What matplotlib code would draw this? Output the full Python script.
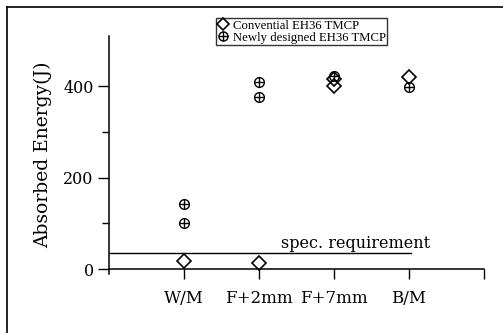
import matplotlib
matplotlib.use("Agg")
import matplotlib.pyplot as plt
from matplotlib.lines import Line2D
from matplotlib.legend_handler import HandlerTuple

# categories on the x axis
categories = ["W/M", "F+2mm", "F+7mm", "B/M"]

# Conventional EH36 TMCP (diamonds)
conv_cat = ["W/M", "F+2mm", "F+7mm", "F+7mm", "B/M"]
conv_vals = [18, 13, 415, 400, 420]

# Newly designed EH36 TMCP (circled plus)
new_cat = ["W/M", "W/M", "F+2mm", "F+2mm", "F+7mm", "B/M"]
new_vals = [142, 100, 409, 377, 422, 397]

spec_value = 35
yticks = [0, 200, 400]
yminor = [100, 300]

serif = "DejaVu Serif"

fig = plt.figure(figsize=(5.03, 3.33), dpi=100)
fig.patch.set_facecolor("white")
ax = fig.add_axes([109 / 503, 0.1784, 375 / 503, 0.7144])

xpos = {c: i + 1 for i, c in enumerate(categories)}
cx = [xpos[c] for c in conv_cat]
nx = [xpos[c] for c in new_cat]

ax.plot(nx, new_vals, ls="none", marker="o", ms=7, mfc="none",
        mec="black", mew=1.0, zorder=3)
ax.plot(nx, new_vals, ls="none", marker="+", ms=7, mec="black",
        mew=1.0, zorder=3)
ax.plot(cx, conv_vals, ls="none", marker="D", ms=7, mfc="none",
        mec="black", mew=1.2, zorder=4)

# spec requirement line
ax.plot([0, 4.03], [spec_value, spec_value], color="black", lw=1.0)
ax.text(2.29, spec_value + 3, "spec. requirement", ha="left", va="bottom",
        fontsize=11.5, family=serif)

ax.set_xlim(0, 5)
ax.set_ylim(-10, 510)

for s in ["top", "right"]:
    ax.spines[s].set_visible(False)
ax.spines["bottom"].set_position(("data", 0))
ax.spines["left"].set_linewidth(1.1)
ax.spines["bottom"].set_linewidth(1.1)

ax.set_xticks([1, 2, 3, 4, 5])
ax.set_xticklabels(categories + [""], family=serif, fontsize=12)
ax.set_yticks(yticks)
ax.set_yticklabels([str(v) for v in yticks], family=serif, fontsize=11.5)
ax.set_yticks(yminor, minor=True)
ax.tick_params(axis="x", direction="out", length=7, width=1.0, pad=8)
ax.tick_params(axis="y", which="major", direction="out", length=8,
               width=1.0, pad=3)
ax.tick_params(axis="y", which="minor", direction="out", length=5, width=1.0)

ax.set_ylabel("Absorbed Energy(J)", family=serif, fontsize=13.5, labelpad=8)

# legend
h_conv = Line2D([], [], ls="none", marker="D", ms=6.5, mfc="none",
                mec="black", mew=1.2)
h_new_c = Line2D([], [], ls="none", marker="o", ms=6.5, mfc="none",
                 mec="black", mew=1.0)
h_new_p = Line2D([], [], ls="none", marker="+", ms=6.5, mec="black", mew=1.0)
leg = fig.legend([h_conv, (h_new_c, h_new_p)],
                 ["Convential EH36 TMCP", "Newly designed EH36 TMCP"],
                 handler_map={tuple: HandlerTuple(ndivide=1, pad=0)},
                 loc="upper left", bbox_to_anchor=(216 / 503, 1 - 18 / 333),
                 prop={"family": "Liberation Serif", "size": 9.2},
                 frameon=True, fancybox=False, edgecolor="black",
                 handlelength=0.9, handletextpad=0.3, borderpad=0.12,
                 labelspacing=0.02, borderaxespad=0)
leg.get_frame().set_linewidth(1.0)

# outer frame (left and top edges of the scanned figure)
fig.add_artist(Line2D([7 / 503, 7 / 503], [0, 1 - 7 / 333],
                      transform=fig.transFigure, color="black", lw=1.2))
fig.add_artist(Line2D([7 / 503, 1], [1 - 7 / 333, 1 - 7 / 333],
                      transform=fig.transFigure, color="black", lw=1.2))

fig.savefig("out.png", dpi=100, facecolor="white")
